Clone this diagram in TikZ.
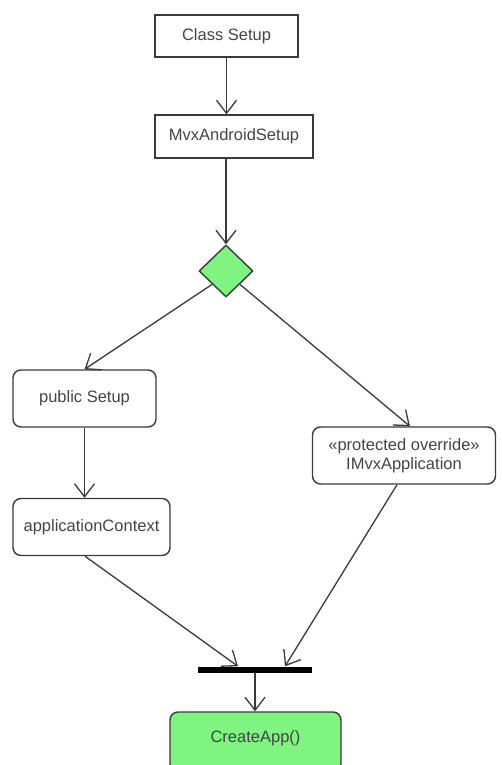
\documentclass[tikz,border=0pt]{standalone}
\usepackage{fontspec}
\setmainfont{Liberation Sans}
\usetikzlibrary{arrows.meta,shapes.geometric}
\definecolor{actgreen}{HTML}{80F480}
\definecolor{ink}{HTML}{3A3A3A}
\definecolor{label}{HTML}{444444}
\begin{document}
\begin{tikzpicture}[x=1pt,y=-1pt,
  every node/.style={font=\fontsize{16.5}{19}\selectfont, text=label, inner sep=0pt},
  classbox/.style={draw=ink, line width=1.4pt, rectangle},
  action/.style={draw=ink, line width=1.4pt, rectangle, rounded corners=8pt, align=center},
  decision/.style={draw=ink, line width=1.4pt, diamond, fill=actgreen, minimum width=54pt, minimum height=52pt},
  joinbar/.style={fill=black, rectangle, minimum width=114pt, minimum height=6pt},
  flow/.style={draw=ink, line width=1.3pt, -{Straight Barb[length=13pt,width=20pt,line width=1.3pt]}}]
\useasboundingbox (0,0) rectangle (501,765);

% activity nodes
\node[classbox, minimum width=143pt, minimum height=42pt] (cls) at (226.5,36) {Class Setup};
\node[classbox, minimum width=158pt, minimum height=43pt] (mvx) at (234,136.5) {MvxAndroidSetup};
\node[decision] (dec) at (226,271) {};
\node[action, minimum width=143pt, minimum height=57pt] (pub) at (84.5,398.5) {public Setup};
\node[action, minimum width=157pt, minimum height=57pt] (ctx) at (91.5,527) {applicationContext};
\node[action, minimum width=183pt, minimum height=57pt] (prot) at (404,455.5) {«protected override»\\IMvxApplication};
\node[joinbar] (bar) at (255,669.5) {};
\begin{scope}
\clip (0,0) rectangle (501,765);
\node[action, fill=actgreen, minimum width=171pt, minimum height=60pt] (app) at (255.5,742) {};
\end{scope}
\node at (255.5,738) {CreateApp()};

% control flow
\draw[flow] (cls.south) -- (cls.south |- mvx.north);
\draw[flow] (dec.north |- mvx.south) -- (dec.north);
\draw[flow] (dec.south west) -- (pub.north);
\draw[flow] (dec.south east) -- ([xshift=6pt]prot.north);
\draw[flow] (pub.south) -- (pub.south |- ctx.north);
\draw[flow] ([xshift=-6.5pt]ctx.south) -- ([xshift=-17pt]bar.north);
\draw[flow] ([xshift=-7pt]prot.south) -- ([xshift=30pt]bar.north);
\draw[flow] (bar.south) -- (bar.south |- app.north);
\end{tikzpicture}
\end{document}
